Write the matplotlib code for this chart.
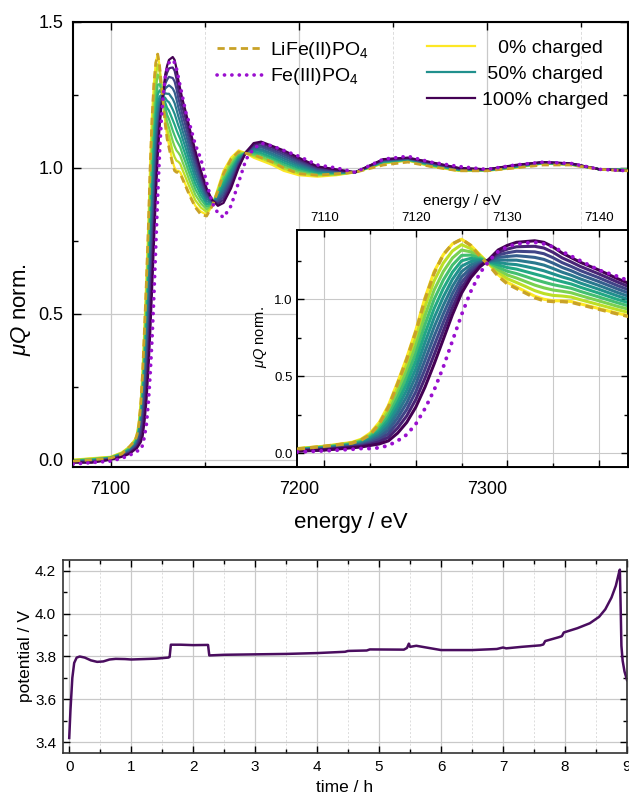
import matplotlib
matplotlib.use("Agg")
import matplotlib.pyplot as plt
from matplotlib.ticker import MultipleLocator

plt.rcParams["font.family"] = ["Liberation Sans", "DejaVu Sans"]
plt.rcParams["mathtext.fontset"] = "custom"
plt.rcParams["mathtext.rm"] = "Liberation Sans"
plt.rcParams["mathtext.it"] = "Liberation Sans:italic"
plt.rcParams["mathtext.bf"] = "Liberation Sans:bold"

# ---------------------------------------------------------------- XANES data
energy_ev = [7080, 7090, 7100, 7106, 7110, 7113, 7114, 7115, 7116, 7117,
             7118, 7119, 7120, 7121, 7122, 7123, 7124, 7125, 7126, 7127,
             7128, 7129, 7130, 7131, 7132, 7133, 7134, 7135, 7136, 7137,
             7138, 7140, 7142, 7145, 7148, 7151, 7154, 7157, 7160, 7164,
             7168, 7172, 7176, 7180, 7186, 7192, 7200, 7210, 7220, 7230,
             7245, 7258, 7270, 7285, 7300, 7315, 7330, 7345, 7360, 7375]

mu_000 = [0.000, 0.005, 0.010, 0.025, 0.045, 0.070, 0.090, 0.130, 0.200, 0.310,
          0.460, 0.620, 0.800, 1.010, 1.180, 1.290, 1.360, 1.390, 1.350, 1.290,
          1.230, 1.160, 1.110, 1.080, 1.050, 1.020, 1.000, 0.990, 0.990, 0.985,
          0.970, 0.940, 0.910, 0.870, 0.850, 0.840, 0.870, 0.930, 0.990, 1.035,
          1.060, 1.050, 1.035, 1.025, 1.010, 0.990, 0.975, 0.970, 0.975, 0.985,
          1.015, 1.025, 1.005, 0.990, 0.990, 1.000, 1.015, 1.010, 0.995, 0.995]
mu_010 = [-0.001, 0.004, 0.009, 0.024, 0.043, 0.067, 0.085, 0.122, 0.186, 0.287,
          0.427, 0.578, 0.750, 0.952, 1.120, 1.235, 1.314, 1.355, 1.329, 1.282,
          1.233, 1.176, 1.134, 1.109, 1.083, 1.056, 1.037, 1.025, 1.021, 1.014,
          0.997, 0.965, 0.933, 0.889, 0.864, 0.849, 0.872, 0.924, 0.979, 1.025,
          1.054, 1.051, 1.040, 1.032, 1.017, 0.997, 0.981, 0.974, 0.977, 0.985,
          1.017, 1.026, 1.007, 0.991, 0.991, 1.001, 1.016, 1.011, 0.995, 0.995]
mu_020 = [-0.002, 0.002, 0.008, 0.022, 0.040, 0.063, 0.080, 0.114, 0.172, 0.264,
          0.394, 0.536, 0.700, 0.894, 1.060, 1.180, 1.268, 1.320, 1.308, 1.274,
          1.236, 1.192, 1.158, 1.138, 1.115, 1.092, 1.074, 1.060, 1.052, 1.042,
          1.024, 0.990, 0.955, 0.908, 0.878, 0.858, 0.874, 0.918, 0.968, 1.014,
          1.048, 1.051, 1.045, 1.038, 1.023, 1.004, 0.987, 0.977, 0.979, 0.985,
          1.018, 1.027, 1.008, 0.992, 0.991, 1.002, 1.016, 1.011, 0.995, 0.994]
mu_030 = [-0.003, 0.001, 0.007, 0.021, 0.038, 0.060, 0.075, 0.106, 0.158, 0.241,
          0.361, 0.494, 0.650, 0.836, 1.000, 1.125, 1.222, 1.285, 1.287, 1.266,
          1.239, 1.208, 1.182, 1.167, 1.148, 1.128, 1.111, 1.095, 1.083, 1.071,
          1.051, 1.015, 0.978, 0.927, 0.892, 0.867, 0.876, 0.912, 0.957, 1.004,
          1.042, 1.052, 1.050, 1.045, 1.030, 1.011, 0.993, 0.981, 0.981, 0.985,
          1.020, 1.028, 1.010, 0.993, 0.992, 1.003, 1.017, 1.012, 0.995, 0.994]
mu_040 = [-0.004, -0.001, 0.006, 0.019, 0.035, 0.056, 0.070, 0.098, 0.144, 0.218,
          0.328, 0.452, 0.600, 0.778, 0.940, 1.070, 1.176, 1.250, 1.266, 1.258,
          1.242, 1.224, 1.206, 1.196, 1.180, 1.164, 1.148, 1.130, 1.114, 1.099,
          1.078, 1.040, 1.000, 0.946, 0.906, 0.876, 0.878, 0.906, 0.946, 0.993,
          1.036, 1.052, 1.055, 1.051, 1.036, 1.018, 0.999, 0.984, 0.983, 0.985,
          1.021, 1.029, 1.011, 0.994, 0.992, 1.004, 1.017, 1.012, 0.995, 0.993]
mu_050 = [-0.005, -0.003, 0.005, 0.018, 0.033, 0.053, 0.065, 0.090, 0.130, 0.195,
          0.295, 0.410, 0.550, 0.720, 0.880, 1.015, 1.130, 1.215, 1.245, 1.250,
          1.245, 1.240, 1.230, 1.225, 1.213, 1.200, 1.185, 1.165, 1.145, 1.128,
          1.105, 1.065, 1.023, 0.965, 0.920, 0.885, 0.880, 0.900, 0.935, 0.983,
          1.030, 1.053, 1.060, 1.058, 1.043, 1.025, 1.005, 0.988, 0.985, 0.985,
          1.023, 1.030, 1.013, 0.995, 0.993, 1.005, 1.018, 1.013, 0.995, 0.993]
mu_060 = [-0.006, -0.004, 0.004, 0.016, 0.030, 0.049, 0.060, 0.082, 0.116, 0.172,
          0.262, 0.368, 0.500, 0.662, 0.820, 0.960, 1.084, 1.180, 1.224, 1.242,
          1.248, 1.256, 1.254, 1.254, 1.245, 1.236, 1.222, 1.200, 1.176, 1.156,
          1.132, 1.090, 1.045, 0.984, 0.934, 0.894, 0.882, 0.894, 0.924, 0.972,
          1.024, 1.053, 1.065, 1.064, 1.049, 1.032, 1.011, 0.991, 0.987, 0.985,
          1.024, 1.031, 1.014, 0.996, 0.993, 1.006, 1.018, 1.013, 0.995, 0.992]
mu_070 = [-0.007, -0.006, 0.003, 0.015, 0.028, 0.046, 0.055, 0.074, 0.102, 0.149,
          0.229, 0.326, 0.450, 0.604, 0.760, 0.905, 1.038, 1.145, 1.203, 1.234,
          1.251, 1.272, 1.278, 1.283, 1.278, 1.272, 1.259, 1.235, 1.207, 1.185,
          1.159, 1.115, 1.068, 1.003, 0.948, 0.903, 0.884, 0.888, 0.913, 0.962,
          1.018, 1.054, 1.070, 1.071, 1.056, 1.039, 1.017, 0.995, 0.989, 0.985,
          1.026, 1.032, 1.016, 0.997, 0.994, 1.007, 1.019, 1.014, 0.995, 0.992]
mu_080 = [-0.008, -0.007, 0.002, 0.013, 0.025, 0.042, 0.050, 0.066, 0.088, 0.126,
          0.196, 0.284, 0.400, 0.546, 0.700, 0.850, 0.992, 1.110, 1.182, 1.226,
          1.254, 1.288, 1.302, 1.312, 1.310, 1.308, 1.296, 1.270, 1.238, 1.213,
          1.186, 1.140, 1.090, 1.022, 0.962, 0.912, 0.886, 0.882, 0.902, 0.951,
          1.012, 1.054, 1.075, 1.077, 1.062, 1.046, 1.023, 0.998, 0.991, 0.985,
          1.027, 1.033, 1.017, 0.998, 0.994, 1.008, 1.019, 1.014, 0.995, 0.991]
mu_090 = [-0.009, -0.009, 0.001, 0.012, 0.023, 0.039, 0.045, 0.058, 0.074, 0.103,
          0.163, 0.242, 0.350, 0.488, 0.640, 0.795, 0.946, 1.075, 1.161, 1.218,
          1.257, 1.304, 1.326, 1.341, 1.343, 1.344, 1.333, 1.305, 1.269, 1.242,
          1.213, 1.165, 1.113, 1.041, 0.976, 0.921, 0.888, 0.876, 0.891, 0.941,
          1.006, 1.055, 1.080, 1.084, 1.069, 1.053, 1.029, 1.002, 0.993, 0.985,
          1.029, 1.034, 1.019, 0.999, 0.995, 1.009, 1.020, 1.015, 0.995, 0.991]
mu_100 = [-0.010, -0.010, 0.000, 0.010, 0.020, 0.035, 0.040, 0.050, 0.060, 0.080,
          0.130, 0.200, 0.300, 0.430, 0.580, 0.740, 0.900, 1.040, 1.140, 1.210,
          1.260, 1.320, 1.350, 1.370, 1.375, 1.380, 1.370, 1.340, 1.300, 1.270,
          1.240, 1.190, 1.135, 1.060, 0.990, 0.930, 0.890, 0.870, 0.880, 0.930,
          1.000, 1.055, 1.085, 1.090, 1.075, 1.060, 1.035, 1.005, 0.995, 0.985,
          1.030, 1.035, 1.020, 1.000, 0.995, 1.010, 1.020, 1.015, 0.995, 0.990]

charge_states = [0, 10, 20, 30, 40, 50, 60, 70, 80, 90, 100]
spectra = [mu_000, mu_010, mu_020, mu_030, mu_040, mu_050,
           mu_060, mu_070, mu_080, mu_090, mu_100]
legend_states = {0: "   0% charged", 50: " 50% charged", 100: "100% charged"}

# reference compounds
mu_lifepo4 = [-0.005, 0.000, 0.005, 0.020, 0.045, 0.065, 0.085, 0.120, 0.190, 0.300,
              0.450, 0.610, 0.790, 1.000, 1.170, 1.290, 1.360, 1.390, 1.350, 1.280,
              1.220, 1.150, 1.100, 1.070, 1.040, 1.010, 0.990, 0.985, 0.985, 0.980,
              0.965, 0.935, 0.905, 0.865, 0.840, 0.835, 0.870, 0.920, 0.980, 1.030,
              1.055, 1.050, 1.045, 1.035, 1.020, 1.000, 0.980, 0.975, 0.980, 0.985,
              1.010, 1.020, 1.005, 0.990, 0.990, 1.000, 1.010, 1.010, 0.995, 0.990]
mu_fepo4 = [-0.015, -0.010, -0.005, 0.005, 0.015, 0.025, 0.030, 0.030, 0.035, 0.050,
            0.080, 0.120, 0.190, 0.290, 0.410, 0.560, 0.730, 0.900, 1.050, 1.170,
            1.250, 1.310, 1.340, 1.360, 1.365, 1.370, 1.360, 1.340, 1.310, 1.280,
            1.250, 1.190, 1.150, 1.080, 1.030, 0.950, 0.880, 0.845, 0.830, 0.870,
            0.950, 1.030, 1.065, 1.085, 1.075, 1.060, 1.040, 1.010, 1.000, 0.985,
            1.030, 1.040, 1.020, 1.005, 0.995, 1.010, 1.020, 1.015, 0.995, 0.990]

# ---------------------------------------------------------- cell potential
time_h = [0.00, 0.02, 0.05, 0.08, 0.12, 0.17, 0.25, 0.35, 0.45, 0.55,
          0.65, 0.75, 0.90, 1.00, 1.20, 1.40, 1.60, 1.62, 1.64, 1.80,
          2.00, 2.24, 2.26, 2.50, 3.00, 3.50, 4.00, 4.45, 4.50, 4.80,
          4.85, 5.40, 5.45, 5.48, 5.50, 5.60, 5.80, 6.00, 6.50, 6.90,
          7.00, 7.05, 7.30, 7.60, 7.65, 7.68, 7.90, 7.95, 7.98, 8.20,
          8.40, 8.55, 8.65, 8.75, 8.82, 8.87, 8.885, 8.90, 8.91, 8.93,
          8.96, 9.00]
potential_v = [3.420, 3.550, 3.700, 3.770, 3.795, 3.800, 3.795, 3.782, 3.775, 3.777,
               3.786, 3.789, 3.788, 3.786, 3.788, 3.790, 3.795, 3.798, 3.855, 3.855,
               3.853, 3.854, 3.805, 3.808, 3.810, 3.812, 3.816, 3.822, 3.826, 3.828,
               3.833, 3.832, 3.840, 3.860, 3.845, 3.850, 3.840, 3.830, 3.830, 3.835,
               3.842, 3.838, 3.845, 3.852, 3.856, 3.872, 3.890, 3.895, 3.912, 3.932,
               3.955, 3.985, 4.020, 4.075, 4.130, 4.190, 4.205, 4.000, 3.850, 3.780,
               3.730, 3.690]

# ------------------------------------------------------------------ styling
cmap = plt.get_cmap("viridis_r")
ref_gold = "#c9a227"
ref_violet = "#9a0fcf"
grid_major = "#c9c9c9"
grid_minor = "#dcdcdc"


def style_ticks(ax, labelsize, major_len, minor_len, width):
    ax.tick_params(which="both", direction="in", top=True, right=True,
                   width=width, labelsize=labelsize)
    ax.tick_params(which="major", length=major_len)
    ax.tick_params(which="minor", length=minor_len)


fig = plt.figure(figsize=(6.29, 8.0), dpi=100)

# ------------------------------------------------------------ main XANES
ax = fig.add_axes([0.1161, 0.41625, 0.8823, 0.55625])
for state, mu in zip(charge_states, spectra):
    ax.plot(energy_ev, mu, color=cmap(state / 100), lw=1.6, zorder=2,
            label=legend_states.get(state, "_nolegend_"))
ln_lfp, = ax.plot(energy_ev, mu_lifepo4, color=ref_gold, lw=2.0,
                  dashes=(2.6, 1.6), zorder=3, label=r"LiFe(II)PO$_4$")
ln_fp, = ax.plot(energy_ev, mu_fepo4, color=ref_violet, lw=2.6,
                 dashes=(0.05, 2.0), dash_capstyle="round", zorder=3,
                 label=r"Fe(III)PO$_4$")

ax.set_xlim(7080, 7375)
ax.set_ylim(-0.025, 1.5)
ax.xaxis.set_major_locator(MultipleLocator(100))
ax.xaxis.set_minor_locator(MultipleLocator(50))
ax.yaxis.set_major_locator(MultipleLocator(0.5))
ax.yaxis.set_minor_locator(MultipleLocator(0.25))
ax.yaxis.set_major_formatter(plt.FormatStrFormatter("%.1f"))
ax.set_axisbelow(True)
ax.grid(which="major", color=grid_major, lw=0.9, ls="-")
ax.grid(which="minor", axis="x", color=grid_minor, lw=0.7, ls=(0, (3, 2)))
style_ticks(ax, 13, 6, 3.5, 1.0)
ax.tick_params(axis="x", pad=10)
ax.tick_params(axis="y", pad=7)
for sp in ax.spines.values():
    sp.set_linewidth(1.5)
ax.set_xlabel("energy / eV", fontsize=16)
ax.xaxis.set_label_coords(0.5, -0.101)
ax.set_ylabel(r"$\mu Q$ norm.", fontsize=16)
ax.yaxis.set_label_coords(-0.072, 0.353)

handles, labels = ax.get_legend_handles_labels()
state_handles = [h for h, l in zip(handles, labels) if "charged" in l]
leg_ref = ax.legend(handles=[ln_lfp, ln_fp], loc="upper left",
                    bbox_to_anchor=(0.245, 0.978), frameon=False, fontsize=14,
                    handlelength=2.4, handletextpad=0.35, labelspacing=0.3,
                    borderaxespad=0.0)
ax.add_artist(leg_ref)
ax.legend(handles=state_handles, loc="upper left",
          bbox_to_anchor=(0.623, 0.978), frameon=False, fontsize=14,
          handlelength=2.5, handletextpad=0.35, labelspacing=0.43,
          borderaxespad=0.0)

# ------------------------------------------------------ inset: edge region
axi = fig.add_axes([0.4722, 0.41625, 0.5262, 0.29625])
axi.set_facecolor("white")
for state, mu in zip(charge_states, spectra):
    axi.plot(energy_ev, mu, color=cmap(state / 100), lw=2.2, zorder=2)
axi.plot(energy_ev, mu_lifepo4, color=ref_gold, lw=2.4, dashes=(2.4, 1.5), zorder=3)
axi.plot(energy_ev, mu_fepo4, color=ref_violet, lw=2.8, dashes=(0.05, 2.0),
         dash_capstyle="round", zorder=3)
axi.set_xlim(7107, 7143.2)
axi.set_ylim(-0.09, 1.45)
axi.xaxis.set_major_locator(MultipleLocator(10))
axi.xaxis.set_minor_locator(MultipleLocator(5))
axi.yaxis.set_major_locator(MultipleLocator(0.5))
axi.yaxis.set_minor_locator(MultipleLocator(0.25))
axi.yaxis.set_major_formatter(plt.FormatStrFormatter("%.1f"))
axi.set_axisbelow(True)
axi.grid(which="both", axis="x", color=grid_major, lw=0.8)
axi.grid(which="major", axis="y", color=grid_major, lw=0.8)
style_ticks(axi, 9.5, 5, 3, 1.0)
axi.tick_params(axis="x", labeltop=True, labelbottom=False, pad=4)
axi.tick_params(axis="y", pad=3)
axi.xaxis.set_label_position("top")
axi.set_xlabel("energy / eV", fontsize=11, labelpad=5)
axi.set_ylabel(r"$\mu Q$ norm.", fontsize=10.5)
axi.yaxis.set_label_coords(-0.085, 0.55)
for sp in axi.spines.values():
    sp.set_linewidth(1.4)

# ------------------------------------------------------- potential profile
axv = fig.add_axes([0.1002, 0.05875, 0.8966, 0.24125])
axv.plot(time_h, potential_v, color="#4a0d5f", lw=1.8)
axv.set_xlim(-0.1, 9.0)
axv.set_ylim(3.35, 4.25)
axv.xaxis.set_major_locator(MultipleLocator(1))
axv.xaxis.set_minor_locator(MultipleLocator(0.5))
axv.yaxis.set_major_locator(MultipleLocator(0.2))
axv.yaxis.set_minor_locator(MultipleLocator(0.1))
axv.set_axisbelow(True)
axv.grid(which="major", color=grid_major, lw=0.9)
axv.grid(which="minor", axis="x", color=grid_minor, lw=0.7, ls=(0, (2, 2)))
style_ticks(axv, 11, 5, 3, 1.0)
axv.tick_params(pad=5)
for sp in axv.spines.values():
    sp.set_linewidth(1.2)
    sp.set_color("#333333")
axv.set_xlabel("time / h", fontsize=12.5)
axv.xaxis.set_label_coords(0.5, -0.139)
axv.set_ylabel("potential / V", fontsize=12.5)
axv.yaxis.set_label_coords(-0.053, 0.5)

fig.savefig("out.png", dpi=100)
